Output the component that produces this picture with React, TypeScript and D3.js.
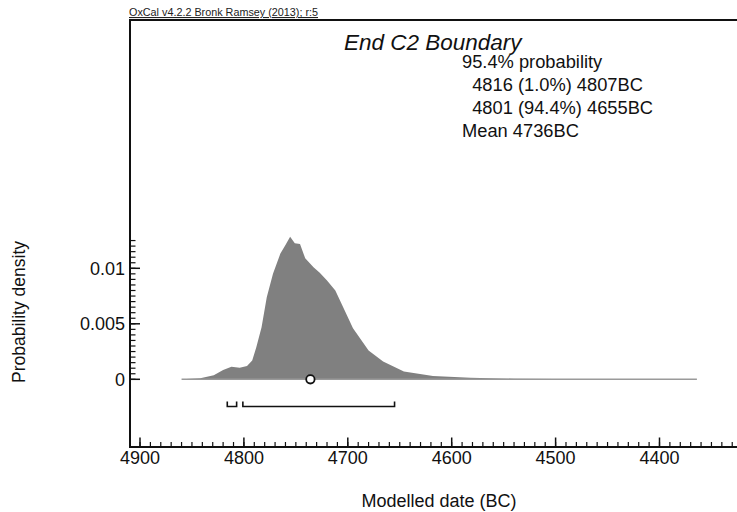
import React from "react";
import * as d3 from "d3";

const years = [4860, 4842, 4829, 4820, 4812, 4804, 4797, 4792, 4788, 4783, 4778, 4772, 4765, 4760, 4755.5, 4751, 4746, 4741, 4733, 4727, 4720, 4712, 4704, 4695, 4680, 4666, 4646, 4618, 4582, 4540, 4500, 4364];
const density = [0, 0.0001, 0.00036, 0.00084, 0.00114, 0.00105, 0.0012, 0.0017, 0.0029, 0.0047, 0.0074, 0.0095, 0.0113, 0.0121, 0.01285, 0.01225, 0.0122, 0.0109, 0.0101, 0.0096, 0.0089, 0.008, 0.0064, 0.0046, 0.0026, 0.0016, 0.0007, 0.0003, 0.00015, 0.00005, 0.00002, 0];

const xTickValues = [4900, 4800, 4700, 4600, 4500, 4400];
const yTickValues = [0, 0.005, 0.01];
const yTickLabels = ["0", "0.005", "0.01"];
const rangeStarts = [4816, 4801];
const rangeEnds = [4807, 4655];
const meanYear = 4736;
const title = "End C2 Boundary";
const infoLines = ["95.4% probability", "  4816 (1.0%) 4807BC", "  4801 (94.4%) 4655BC", "Mean 4736BC"];
const header = "OxCal v4.2.2 Bronk Ramsey (2013); r:5";

const W = 737, H = 512;
const axisLeft = 130, axisBottom = 447, frameTop = 20;

export default function App() {
  const x = d3.scaleLinear().domain([4900, 4400]).range([140, 659.5]);
  const y = d3.scaleLinear().domain([0, 0.01]).range([379.3, 268.3]);
  const pts = years.map((yr, i) => [yr, density[i]] as [number, number]);
  const area = d3.area<[number, number]>().x(d => x(d[0])).y0(y(0)).y1(d => y(d[1]));

  const minorX = d3.range(4910, 4320, -10).filter(v => x(v) >= axisLeft && x(v) <= W);
  const minorY = d3.range(0, 0.01251, 0.0005);
  const font = "'Liberation Sans', Arial, sans-serif";

  return (
    <svg width={W} height={H} style={{ position: "absolute", left: 0, top: 0, background: "#fff" }} fontFamily={font}>
      <text x={129} y={16} fontSize={10.8} textDecoration="underline" fill="#222">{header}</text>
      {/* frame */}
      <line x1={axisLeft} x2={W} y1={frameTop} y2={frameTop} stroke="#111" strokeWidth={2} />
      <line x1={axisLeft} x2={axisLeft} y1={frameTop - 1} y2={axisBottom + 1} stroke="#111" strokeWidth={2} />
      <line x1={axisLeft} x2={W} y1={axisBottom} y2={axisBottom} stroke="#111" strokeWidth={2} />

      {/* density */}
      <path d={area(pts) || ""} fill="#808080" />
      <line x1={x(years[0])} x2={x(years[years.length - 1])} y1={y(0)} y2={y(0)} stroke="#9a9a9a" strokeWidth={1.6} />
      <circle cx={x(meanYear)} cy={y(0)} r={4.2} fill="#fff" stroke="#111" strokeWidth={1.8} />

      {/* ranges */}
      {rangeStarts.map((s, i) => (
        <path key={i} d={`M${x(s)},401.5 V406.5 H${x(rangeEnds[i])} V401.5`} fill="none" stroke="#111" strokeWidth={1.6} />
      ))}

      {/* x ticks */}
      {minorX.map(v => (
        <line key={"mx" + v} x1={x(v)} x2={x(v)} y1={axisBottom} y2={axisBottom - 5} stroke="#111" strokeWidth={1.2} />
      ))}
      {xTickValues.map(v => (
        <g key={"x" + v}>
          <line x1={x(v)} x2={x(v)} y1={axisBottom} y2={axisBottom - 9.5} stroke="#111" strokeWidth={1.5} />
          <text x={x(v)} y={463.5} fontSize={18} textAnchor="middle" fill="#111">{v}</text>
        </g>
      ))}

      {/* y ticks */}
      {minorY.map((v, i) => (
        <line key={"my" + i} x1={axisLeft} x2={axisLeft + 5.5} y1={y(v)} y2={y(v)} stroke="#111" strokeWidth={1.2} />
      ))}
      {yTickValues.map((v, i) => (
        <g key={"y" + i}>
          <line x1={axisLeft} x2={axisLeft + 10} y1={y(v)} y2={y(v)} stroke="#111" strokeWidth={1.5} />
          <text x={125} y={y(v) + 6.5} fontSize={18} textAnchor="end" fill="#111">{yTickLabels[i]}</text>
        </g>
      ))}

      {/* axis titles */}
      <text x={439} y={507} fontSize={18} textAnchor="middle" fill="#111">Modelled date (BC)</text>
      <text transform="translate(25,312) rotate(-90)" fontSize={17.5} textAnchor="middle" fill="#111">Probability density</text>

      {/* annotations */}
      <text x={344} y={50} fontSize={22.5} fontStyle="italic" fill="#111">{title}</text>
      {infoLines.map((t, i) => (
        <text key={i} x={462} y={67.5 + i * 23} fontSize={18.3} fill="#111" style={{ whiteSpace: "pre" }} xmlSpace="preserve">{t}</text>
      ))}
    </svg>
  );
}
